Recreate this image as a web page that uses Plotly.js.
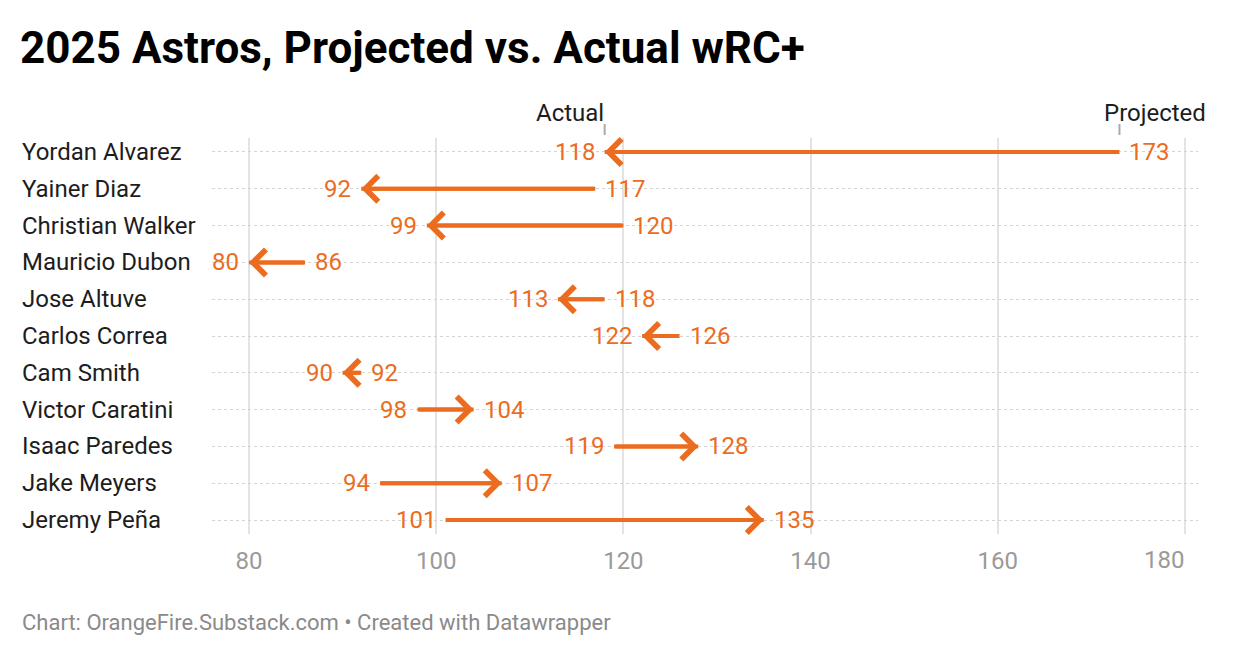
<!DOCTYPE html>
<html>
<head>
<meta charset="utf-8">
<script src="https://cdn.plot.ly/plotly-3.0.1.min.js"></script>
<style>html,body{margin:0;padding:0;background:#fff;}#chart{width:1240px;height:658px;}</style>
</head>
<body>
<div id="chart"></div>
<script>
const players = ["Yordan Alvarez","Yainer Diaz","Christian Walker","Mauricio Dubon","Jose Altuve","Carlos Correa","Cam Smith","Victor Caratini","Isaac Paredes","Jake Meyers","Jeremy Peña"];
const projected = [173,117,120,86,118,126,92,98,119,94,101];
const actual = [118,92,99,80,113,122,90,104,128,107,135];
const xTicks = [80,100,120,140,160,180];

const ORANGE = "#ec6c1f";
const FONT = "Roboto, 'Noto Sans', sans-serif";
const PW = 986, PH = 396, ML = 212, MT = 138;

const rows = players.map((p,i)=>i);

const lx = [], ly = [];
players.forEach((p,i)=>{ lx.push(projected[i], actual[i], null); ly.push(i,i,null); });

const lineTrace = {
  x: lx, y: ly, mode: "lines", type: "scatter",
  line: {color: ORANGE, width: 4}, hoverinfo: "skip", showlegend: false
};

const annotations = [];
players.forEach((p,i)=>{
  // arrowhead at the actual value
  annotations.push({x: actual[i], y: i, ax: projected[i], ay: i, xref:"x", yref:"y", axref:"x", ayref:"y",
    text:"", showarrow:true, arrowhead:4, arrowsize:1.25, arrowwidth:4, arrowcolor:ORANGE, standoff:0});
  const lo = Math.min(projected[i], actual[i]);
  const hi = Math.max(projected[i], actual[i]);
  annotations.push({x: lo, y: i, xref:"x", yref:"y", text: String(lo), showarrow:false,
    xanchor:"right", yanchor:"middle", xshift:-8, font:{family:FONT,size:24,color:ORANGE}});
  annotations.push({x: hi, y: i, xref:"x", yref:"y", text: String(hi), showarrow:false,
    xanchor:"left", yanchor:"middle", xshift:8, font:{family:FONT,size:24,color:ORANGE}});
  annotations.push({x: (20-ML)/PW, y: i, xref:"paper", yref:"y", text: p, showarrow:false,
    xanchor:"left", yanchor:"middle", font:{family:FONT,size:24,color:"#1d1d1d"}});
});
// header labels
annotations.push({x: actual[0], y: 1 + 25/PH, xref:"x", yref:"paper", text:"Actual", showarrow:false,
  xanchor:"right", yanchor:"middle", xshift:1, font:{family:FONT,size:24,color:"#1d1d1d"}});
annotations.push({x: projected[0], y: 1 + 25/PH, xref:"x", yref:"paper", text:"Projected", showarrow:false,
  xanchor:"left", yanchor:"middle", xshift:-17, font:{family:FONT,size:24,color:"#1d1d1d"}});
// last tick label kept inside the plot edge
const lastTick = xTicks[xTicks.length-1];
annotations.push({x: lastTick, y: (658-124-560)/PH, xref:"x", yref:"paper", text:String(lastTick), showarrow:false,
  xanchor:"right", yanchor:"middle", xshift:1, font:{family:FONT,size:24,color:"#9a9a9a"}});
// footer
annotations.push({x: (20-ML)/PW, y: (658-124-622)/PH, xref:"paper", yref:"paper",
  text:"Chart: OrangeFire.Substack.com • Created with Datawrapper",
  showarrow:false, xanchor:"left", yanchor:"middle", font:{family:FONT,size:22,color:"#8a8a8a"}});

const shapes = [actual[0], projected[0]].map(v=>({
  type:"line", xref:"x", yref:"paper", x0:v, x1:v, y0:1+3/PH, y1:1+14/PH,
  line:{color:"#aaaaaa", width:2}
}));

const layout = {
  width: 1240, height: 658,
  margin: {l:ML, r:42, t:MT, b:124, pad:0},
  paper_bgcolor:"#fff", plot_bgcolor:"#fff",
  title: {text:"<b>2025 Astros, Projected vs. Actual wRC+</b>", xref:"container", yref:"container",
    x: 20/1240, xanchor:"left", y: 1-48/658, yanchor:"middle",
    font:{family:FONT, size:44, color:"#000"}},
  xaxis: {range:[76.05,181.39], tickvals:xTicks, ticktext:xTicks.map((t,i)=> i===xTicks.length-1 ? "" : String(t)), showgrid:true,
    gridcolor:"#e3e3e3", gridwidth:2, zeroline:false, showline:false, ticks:"",
    ticklabelstandoff:10, tickfont:{family:FONT,size:24,color:"#9a9a9a"}, fixedrange:true},
  yaxis: {range:[10.38,-0.38], tickvals:rows, showticklabels:false, showgrid:true,
    gridcolor:"#d4d4d4", gridwidth:1, griddash:"dot", zeroline:false, showline:false, ticks:"", fixedrange:true},
  annotations: annotations,
  shapes: shapes,
  showlegend:false
};

Plotly.newPlot("chart", [lineTrace], layout, {displayModeBar:false, staticPlot:true});
</script>
</body>
</html>
